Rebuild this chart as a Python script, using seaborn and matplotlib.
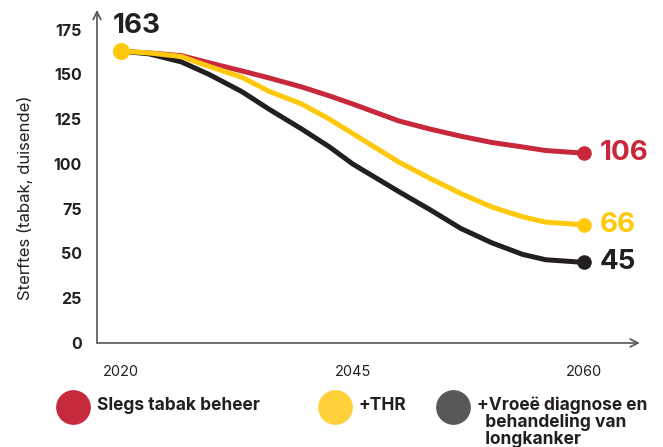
import numpy as np
import pandas as pd
import matplotlib
matplotlib.use("Agg")
import matplotlib.pyplot as plt
import seaborn as sns
from matplotlib.lines import Line2D

# Data
years = [2020, 2023, 2026.5, 2029.5, 2033, 2036, 2039.5, 2042.5, 2045,
         2048, 2050, 2052, 2054, 2056, 2057.5, 2060]
tabak = [163, 162, 160.5, 156.5, 152, 148, 143, 138, 133.5, 124, 119.5, 115.5, 112, 109.5, 107.5, 106]
thr = [163, 162, 160, 154.5, 148.5, 140.5, 133.5, 125, 117, 101, 92, 83.5, 76, 70.5, 67.5, 66]
vroee = [163, 161.5, 157, 150, 140.5, 130.5, 119.5, 109.5, 100, 84.5, 74.5, 64, 56, 49.5, 46.5, 45]
tick_years = [2020, 2045, 2060]
y_ticks = [0, 25, 50, 75, 100, 125, 150, 175]

names = ["Slegs tabak beheer", "+THR", "+Vroeë diagnose en\nbehandeling van\nlongkanker"]
colors = ["#c8283c", "#ffc80a", "#231f20"]
legend_colors = ["#c52b3d", "#ffd03a", "#58585a"]

df = pd.DataFrame({
    "year": years * 3,
    "deaths": tabak + thr + vroee,
    "scenario": [names[0]] * len(years) + [names[1]] * len(years) + [names[2]] * len(years),
})

# The x axis is not linear in years: 2020-2045 and 2045-2060 get the same width
def fwd(y):
    y = np.asarray(y, dtype=float)
    return np.where(y < 2045, (y - 2020) / 25, 1 + (y - 2045) / 15)

def inv(p):
    p = np.asarray(p, dtype=float)
    return np.where(p < 1, 2020 + 25 * p, 2045 + 15 * (p - 1))

sns.set_style("white")
plt.rcParams["font.family"] = ["Inter", "DejaVu Sans"]

fig = plt.figure(figsize=(6.63, 4.47), dpi=100)
ax = fig.add_axes([0.1463, 0.2327, 0.8187, 0.745])
ax.set_xscale("function", functions=(fwd, inv))

draw_order = [names[0], names[2], names[1]]
sns.lineplot(data=df, x="year", y="deaths", hue="scenario", hue_order=draw_order,
             palette=dict(zip(names, colors)), linewidth=3.6, legend=False, ax=ax)

# end points and labels
for col, vals in [(colors[0], tabak), (colors[2], vroee), (colors[1], thr)]:
    ax.scatter([years[-1]], [vals[-1]], s=110, color=col, zorder=5, linewidths=0)
    ax.annotate(str(vals[-1]), (years[-1], vals[-1]), xytext=(11, 0), textcoords="offset points",
                va="center", ha="left", fontsize=20, fontweight="bold", color=col)
ax.scatter([years[0]], [thr[0]], s=150, color=colors[1], zorder=6, linewidths=0)
ax.annotate(str(vroee[0]), (years[0], vroee[0]), xytext=(-6, 9), textcoords="offset points",
            va="bottom", ha="left", fontsize=20, fontweight="bold", color="#231f20")

ax.set_xlim(2017.4, 2063.6)
ax.set_ylim(0, 186)
ax.set_xticks(tick_years)
ax.set_xticklabels([str(t) for t in tick_years])
ax.set_yticks(y_ticks)
ax.minorticks_off()
ax.tick_params(axis="y", length=8, width=1.2, color="#555555", labelsize=11.5, pad=3)
ax.tick_params(axis="x", length=10, width=1.2, color="#555555", labelsize=10.5, pad=6)
for lab in ax.get_yticklabels():
    lab.set_fontweight("bold")
    lab.set_color("#231f20")
for lab in ax.get_xticklabels():
    lab.set_color("#231f20")

ax.set_xlabel("")
ax.set_ylabel("Sterftes (tabak, duisende)", fontsize=12, color="#231f20")
ax.yaxis.set_label_coords(-0.118, 0.435)

for s in ax.spines.values():
    s.set_visible(False)
arrow = dict(arrowstyle="->", color="#555555", lw=1.2, mutation_scale=14, shrinkA=0, shrinkB=0)
ax.annotate("", xy=(1, 0), xytext=(0, 0), xycoords="axes fraction", arrowprops=arrow)
ax.annotate("", xy=(0, 1), xytext=(0, 0), xycoords="axes fraction", arrowprops=arrow)

# legend row
leg_x = [0.110, 0.505, 0.683]
for x, name, col in zip(leg_x, names, legend_colors):
    fig.add_artist(Line2D([x], [0.09], transform=fig.transFigure, marker="o",
                          markersize=24, color=col, linestyle="none"))
    lines = name.split("\n")
    text = lines[0] + "".join("\n  " + l for l in lines[1:])
    fig.text(x + 0.036, 0.112, text, fontsize=12.5, fontweight="bold",
             color="#231f20", va="top", ha="left", linespacing=0.95)

plt.savefig("out.png", dpi=100)
plt.close()
